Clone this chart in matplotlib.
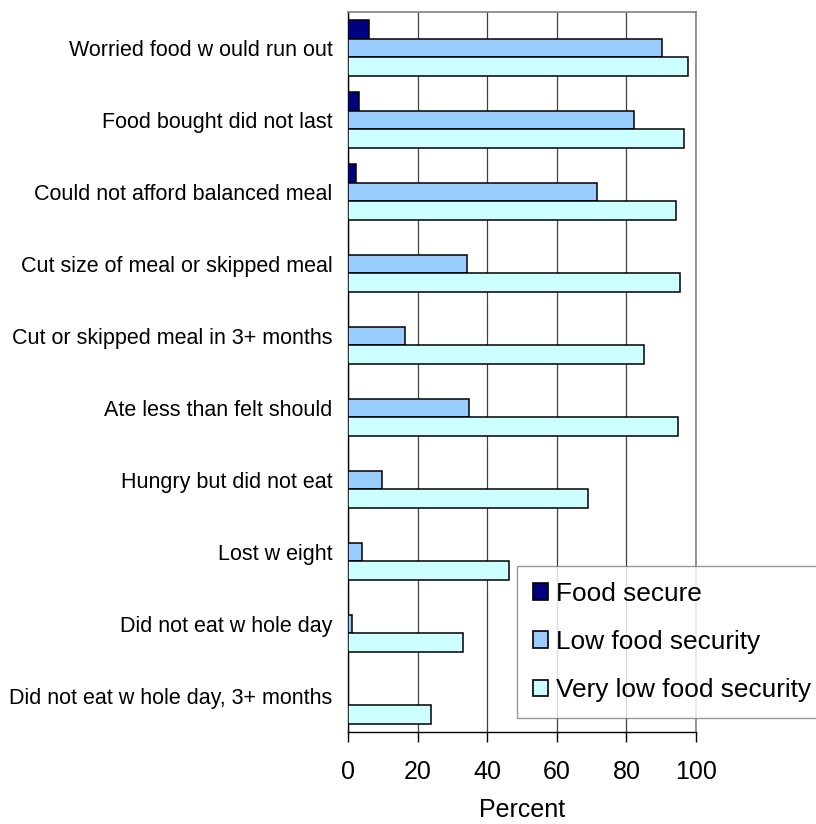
import matplotlib
matplotlib.use("Agg")
import matplotlib.pyplot as plt
import numpy as np

plt.rcParams['font.family'] = ['Liberation Sans', 'DejaVu Sans']

categories = [
    "Worried food w ould run out",
    "Food bought did not last",
    "Could not afford balanced meal",
    "Cut size of meal or skipped meal",
    "Cut or skipped meal in 3+ months",
    "Ate less than felt should",
    "Hungry but did not eat",
    "Lost w eight",
    "Did not eat w hole day",
    "Did not eat w hole day, 3+ months",
]
food_secure = [6.0, 3.1, 2.4, 0, 0, 0, 0, 0, 0, 0]
low_security = [90.1, 82.1, 71.6, 34.1, 16.3, 34.7, 9.9, 4.1, 1.2, 0]
very_low_security = [97.8, 96.5, 94.2, 95.4, 85.0, 94.9, 68.9, 46.4, 33.1, 23.8]
series_names = ["Food secure", "Low food security", "Very low food security"]
series_colors = ["#000080", "#99CCFF", "#CCFFFF"]

fig = plt.figure(figsize=(8.16, 8.24), dpi=100)
ax = fig.add_axes([348 / 816, 1 - 732 / 824, 348 / 816, 720 / 824])

y = np.arange(len(categories))
h = 0.26
for k, (vals, name, col) in enumerate(zip([food_secure, low_security, very_low_security],
                                          series_names, series_colors)):
    ax.barh(y + (k - 1) * h, vals, height=h, color=col, edgecolor='black',
            linewidth=1.1, label=name, zorder=3)

ax.set_xlim(0, 100)
ax.set_ylim(len(categories) - 0.5, -0.5)
ax.set_xticks([0, 20, 40, 60, 80, 100])
ax.set_yticks(y)
ax.set_yticklabels(categories, fontsize=15.5)
ax.tick_params(axis='y', length=0, pad=11)
ax.tick_params(axis='x', labelsize=18, length=7, width=1, pad=13, direction='out')
ax.set_xlabel("Percent", fontsize=18, labelpad=10)

ax.grid(axis='x', color='#404040', linewidth=0.9, zorder=0)
ax.set_axisbelow(True)
for side in ['top', 'right']:
    ax.spines[side].set_color('#808080')
    ax.spines[side].set_linewidth(1.2)
for side in ['left', 'bottom']:
    ax.spines[side].set_color('black')
    ax.spines[side].set_linewidth(1.0)

leg = fig.legend(loc='upper left', bbox_to_anchor=(517 / 816, 1 - 566 / 824),
                 bbox_transform=fig.transFigure, fontsize=18.9, frameon=True,
                 fancybox=False, borderaxespad=0, borderpad=0.6,
                 handlelength=0.58, handleheight=0.58, handletextpad=0.32,
                 labelspacing=0.92)
leg.get_frame().set_edgecolor('#808080')
leg.get_frame().set_linewidth(1.0)
for p in leg.get_patches():
    p.set_linewidth(1.2)

fig.savefig("out.png", dpi=100)
